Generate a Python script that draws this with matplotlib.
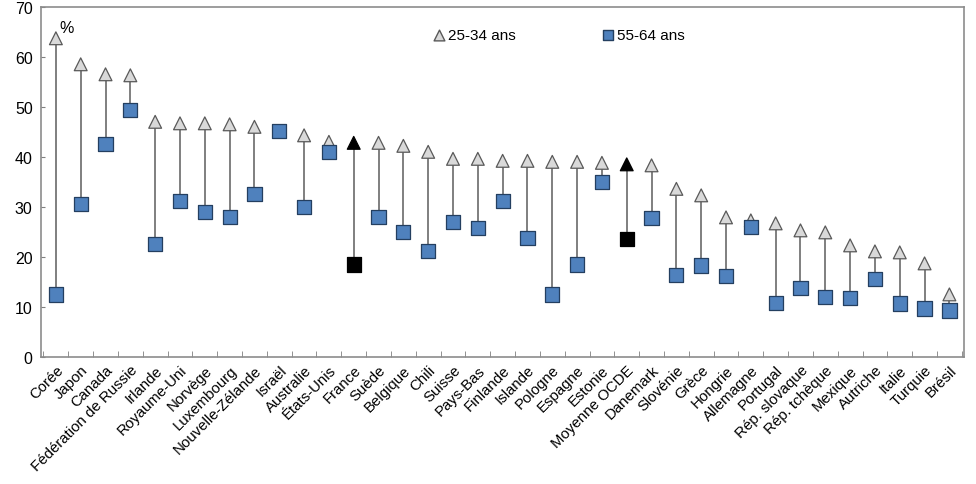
import matplotlib
matplotlib.use("Agg")
import matplotlib.pyplot as plt
import numpy as np

plt.rcParams['font.family'] = ['Liberation Sans', 'DejaVu Sans']

countries = ["Corée", "Japon", "Canada", "Fédération de Russie", "Irlande", "Royaume-Uni",
             "Norvège", "Luxembourg", "Nouvelle-Zélande", "Israël", "Australie", "États-Unis",
             "France", "Suède", "Belgique", "Chili", "Suisse", "Pays-Bas", "Finlande", "Islande",
             "Pologne", "Espagne", "Estonie", "Moyenne OCDE", "Danemark", "Slovénie", "Grèce",
             "Hongrie", "Allemagne", "Portugal", "Rép. slovaque", "Rép. tchèque", "Mexique",
             "Autriche", "Italie", "Turquie", "Brésil"]
young = [63.7, 58.5, 56.5, 56.3, 47.0, 46.7, 46.7, 46.5, 46.0, 45.0, 44.3, 43.0,
         42.8, 42.8, 42.2, 41.0, 39.6, 39.6, 39.2, 39.2, 39.0, 39.0, 38.8, 38.5,
         38.3, 33.6, 32.3, 27.9, 27.3, 26.7, 25.3, 24.9, 22.3, 21.1, 20.9, 18.7, 12.5]
old = [12.5, 30.5, 42.5, 49.3, 22.5, 31.2, 29.0, 28.0, 32.5, 45.2, 30.0, 41.0,
       18.5, 28.0, 25.0, 21.2, 27.0, 25.7, 31.2, 23.8, 12.5, 18.5, 35.0, 23.6,
       27.8, 16.4, 18.3, 16.2, 26.0, 10.8, 13.8, 12.0, 11.8, 15.6, 10.7, 9.7, 9.3]
highlight = ["France", "Moyenne OCDE"]
yticks = [0, 10, 20, 30, 40, 50, 60, 70]

fig = plt.figure(figsize=(9.76, 4.85), dpi=100)
ax = fig.add_axes([0.042, 0.262, 0.946, 0.722])
x = np.arange(len(countries))

tri_fc = ['black' if c in highlight else '#d9d9d9' for c in countries]
tri_ec = ['black' if c in highlight else '#595959' for c in countries]
sq_fc = ['black' if c in highlight else '#4f81bd' for c in countries]
sq_ec = ['black' if c in highlight else '#243f60' for c in countries]

ax.vlines(x, old, young, color='#7f7f7f', linewidth=1.4, zorder=1)
ax.scatter(x, young, marker='^', s=85, facecolors=tri_fc, edgecolors=tri_ec, linewidths=0.9, zorder=2)
ax.scatter(x, old, marker='s', s=105, facecolors=sq_fc, edgecolors=sq_ec, linewidths=0.9, zorder=3)

ax.set_xlim(-0.6, len(countries) - 0.4)
ax.set_ylim(0, 70)
ax.set_yticks(yticks)
ax.set_yticklabels([str(v) for v in yticks], fontsize=11.5)
ax.set_xticks(x)
ax.set_xticklabels(countries, rotation=45, ha='right', rotation_mode='anchor', fontsize=10.8)
ax.set_xticks(np.arange(-0.5, len(countries), 1), minor=True)
ax.tick_params(axis='x', which='major', length=0, pad=4)
ax.tick_params(axis='x', which='minor', direction='in', length=4, color='#7f7f7f')
ax.tick_params(axis='y', direction='in', length=3, color='#7f7f7f', pad=6)
for s in ax.spines.values():
    s.set_color('#8c8c8c')
    s.set_linewidth(1.2)

ax.text(0.15, 64.3, '%', fontsize=11.5, ha='left', va='bottom')

ax.scatter([], [], marker='^', s=60, facecolors='#d9d9d9', edgecolors='#595959', label='25-34 ans')
ax.scatter([], [], marker='s', s=60, facecolors='#4f81bd', edgecolors='#243f60', label='55-64 ans')
ax.legend(loc='upper center', bbox_to_anchor=(0.56, 0.98), ncol=2, frameon=False,
          fontsize=11, handletextpad=0.1, columnspacing=5.5, handlelength=1.0)

fig.savefig('out.png', dpi=100)
